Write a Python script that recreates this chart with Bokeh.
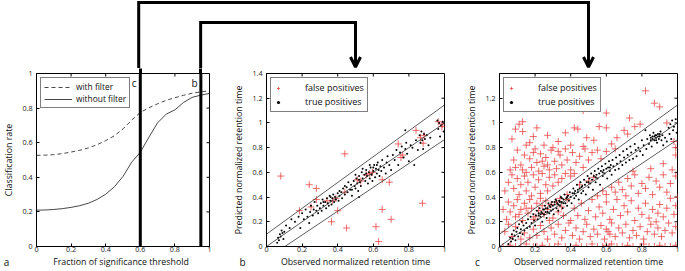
from bokeh.plotting import figure
from bokeh.layouts import column, row
from bokeh.models import (Range1d, FixedTicker, Span, Label, Legend, LegendItem, Arrow, OpenHead,
                          LinearAxis, CustomLabelingPolicy)
from bokeh.core.properties import value
from bokeh.embed import file_html
from bokeh.resources import INLINE

# ---------------- data ----------------
a_x = [0, 0.05, 0.1, 0.15, 0.2, 0.25, 0.3, 0.35, 0.4, 0.45, 0.5,
       0.55, 0.6, 0.65, 0.7, 0.75, 0.8, 0.85, 0.9, 0.95, 1.0]
a_with_filter = [0.527, 0.528, 0.531, 0.537, 0.546, 0.556, 0.570, 0.588, 0.612, 0.640, 0.680,
                 0.730, 0.775, 0.802, 0.825, 0.845, 0.860, 0.874, 0.886, 0.894, 0.900]
a_without_filter = [0.210, 0.211, 0.214, 0.219, 0.226, 0.236, 0.250, 0.272, 0.302, 0.345, 0.405,
                    0.487, 0.545, 0.632, 0.715, 0.765, 0.790, 0.833, 0.862, 0.875, 0.885]
a_thresholds = [0.6, 0.95]          # panel c, panel b
a_threshold_labels = ["c", "b"]

unit_ticks = [0, 0.2, 0.4, 0.6, 0.8, 1]
unit_tick_labels = ["0", "0.2", "0.4", "0.6", "0.8", "1"]
b_y_ticks = [0, 0.2, 0.4, 0.6, 0.8, 1, 1.2, 1.4]
b_y_tick_labels = ["0", "0.2", "0.4", "0.6", "0.8", "1", "1.2", "1.4"]
c_y_ticks = [0, 0.2, 0.4, 0.6, 0.8, 1, 1.2]
c_y_tick_labels = ["0", "0.2", "0.4", "0.6", "0.8", "1", "1.2"]

panel_letters = ["a", "b", "c"]
x_labels = ["Fraction of significance threshold",
            "Observed normalized retention time",
            "Observed normalized retention time"]

band_x = [0, 1]
band_mid = [0, 1]
band_upper = [0.1, 1.145]
band_lower = [-0.1, 0.865]

b_false_pos = [(0.08, 0.57), (0.185, 0.29), (0.24, 0.50), (0.25, 0.32), (0.28, 0.47), (0.28, 0.38),
               (0.34, 0.37), (0.365, 0.20), (0.37, 0.37), (0.39, 0.39), (0.40, 0.29), (0.44, 0.75),
               (0.44, 0.44), (0.45, 0.15), (0.51, 0.54), (0.53, 0.53), (0.56, 0.58), (0.58, 0.59),
               (0.595, 0.60), (0.615, 0.16), (0.63, 0.04), (0.65, 0.54), (0.65, 0.30), (0.69, 0.52),
               (0.70, 0.22), (0.74, 0.83), (0.755, 0.72), (0.765, 0.74), (0.84, 0.94), (0.865, 0.88),
               (0.885, 0.90), (0.88, 0.835), (0.876, 0.35), (0.965, 1.01), (0.985, 0.97), (0.99, 0.99)]

b_true_pos = [(0.06, 0.03), (0.065, 0.07), (0.07, 0.05), (0.075, 0.10), (0.08, 0.08), (0.085, 0.13),
              (0.09, 0.11), (0.095, 0.06), (0.10, 0.12), (0.11, 0.17), (0.13, 0.15), (0.14, 0.22),
              (0.16, 0.20), (0.18, 0.24), (0.19, 0.15), (0.20, 0.27), (0.21, 0.22), (0.22, 0.30),
              (0.23, 0.24), (0.24, 0.19), (0.245, 0.28), (0.25, 0.33), (0.26, 0.25), (0.265, 0.30),
              (0.27, 0.36), (0.28, 0.29), (0.285, 0.33), (0.29, 0.27), (0.30, 0.31), (0.305, 0.35),
              (0.31, 0.29), (0.315, 0.38), (0.32, 0.33), (0.33, 0.36), (0.335, 0.31), (0.34, 0.39),
              (0.345, 0.35), (0.35, 0.33), (0.355, 0.41), (0.36, 0.37), (0.365, 0.34), (0.37, 0.39),
              (0.375, 0.42), (0.38, 0.36), (0.385, 0.40), (0.39, 0.38), (0.40, 0.43), (0.405, 0.37),
              (0.41, 0.41), (0.42, 0.44), (0.425, 0.39), (0.43, 0.47), (0.44, 0.42), (0.45, 0.48),
              (0.455, 0.44), (0.46, 0.52), (0.47, 0.46), (0.475, 0.50), (0.48, 0.41), (0.49, 0.53),
              (0.495, 0.49), (0.50, 0.47), (0.505, 0.55), (0.51, 0.51), (0.515, 0.45), (0.52, 0.57),
              (0.525, 0.52), (0.53, 0.49), (0.535, 0.60), (0.54, 0.55), (0.52, 0.40), (0.55, 0.58),
              (0.555, 0.53), (0.56, 0.62), (0.565, 0.57), (0.57, 0.51), (0.575, 0.60), (0.58, 0.55),
              (0.585, 0.64), (0.59, 0.58), (0.595, 0.53), (0.60, 0.61), (0.605, 0.66), (0.61, 0.56),
              (0.615, 0.63), (0.62, 0.59), (0.625, 0.68), (0.63, 0.62), (0.635, 0.57), (0.64, 0.65),
              (0.645, 0.61), (0.65, 0.70), (0.66, 0.64), (0.67, 0.59), (0.675, 0.68), (0.68, 0.73),
              (0.69, 0.66), (0.70, 0.62), (0.71, 0.74), (0.72, 0.70), (0.73, 0.78), (0.74, 0.66),
              (0.75, 0.76), (0.76, 0.81), (0.77, 0.72), (0.78, 0.79), (0.785, 0.84), (0.79, 0.75),
              (0.80, 0.69), (0.81, 0.82), (0.78, 0.94), (0.82, 0.80), (0.83, 0.66), (0.84, 0.86),
              (0.85, 0.78), (0.86, 0.90), (0.865, 0.84), (0.87, 0.93), (0.875, 0.86), (0.88, 0.79),
              (0.885, 0.91), (0.89, 0.87), (0.90, 0.90), (0.91, 0.82), (0.92, 0.88), (0.96, 1.02),
              (0.965, 0.95), (0.97, 1.00), (0.975, 0.89), (0.98, 0.98), (0.99, 1.01), (0.995, 0.93),
              (0.41, 0.45), (0.44, 0.49), (0.48, 0.46), (0.52, 0.54), (0.56, 0.59), (0.60, 0.64),
              (0.36, 0.40), (0.32, 0.36), (0.58, 0.66), (0.54, 0.63), (0.62, 0.66), (0.50, 0.58)]

c_false_pos = [
    # upper region
    (0.07, 1.13), (0.10, 1.12), (0.16, 1.17), (0.30, 1.12), (0.47, 1.10), (0.60, 1.08), (0.82, 1.26),
    (0.87, 1.16), (0.90, 1.13), (0.42, 1.22), (0.73, 1.04), (0.13, 1.01),
    (0.07, 0.87), (0.09, 0.95), (0.11, 0.99), (0.13, 0.93), (0.15, 0.82), (0.19, 0.89), (0.21, 0.96),
    (0.25, 0.82), (0.27, 0.90), (0.33, 0.85), (0.37, 0.92), (0.42, 0.96), (0.44, 0.95), (0.40, 0.82),
    (0.49, 0.88), (0.53, 0.86), (0.60, 0.96), (0.63, 0.83), (0.70, 0.94), (0.72, 0.91), (0.66, 0.88),
    (0.56, 0.97), (0.30, 0.80), (0.17, 0.84), (0.47, 0.81), (0.76, 0.97), (0.79, 0.99), (0.94, 1.00),
    (0.98, 0.85), (0.99, 0.80),
    (0.06, 0.62), (0.08, 0.70), (0.10, 0.78), (0.12, 0.66), (0.14, 0.74), (0.15, 0.60), (0.17, 0.71),
    (0.18, 0.64), (0.20, 0.79), (0.21, 0.68), (0.22, 0.61), (0.23, 0.75), (0.25, 0.65), (0.26, 0.72),
    (0.28, 0.62), (0.29, 0.78), (0.31, 0.69), (0.32, 0.63), (0.34, 0.74), (0.35, 0.66), (0.37, 0.79),
    (0.38, 0.70), (0.40, 0.62), (0.41, 0.76), (0.43, 0.68), (0.45, 0.73), (0.47, 0.64), (0.48, 0.79),
    (0.50, 0.70), (0.52, 0.76), (0.55, 0.78), (0.57, 0.71), (0.60, 0.77), (0.65, 0.79), (0.13, 0.62),
    (0.19, 0.76), (0.24, 0.69), (0.33, 0.77), (0.27, 0.66), (0.09, 0.64), (0.92, 0.67), (0.97, 0.62),
    (0.99, 0.74), (0.85, 0.63), (0.75, 0.61),
    # middle region
    (0.03, 0.45), (0.05, 0.52), (0.07, 0.58), (0.08, 0.47), (0.10, 0.55), (0.11, 0.42), (0.12, 0.50),
    (0.14, 0.57), (0.15, 0.45), (0.16, 0.52), (0.18, 0.41), (0.19, 0.58), (0.20, 0.48), (0.22, 0.54),
    (0.23, 0.43), (0.24, 0.59), (0.26, 0.50), (0.27, 0.45), (0.28, 0.56), (0.30, 0.49), (0.31, 0.58),
    (0.33, 0.52), (0.35, 0.55), (0.37, 0.59), (0.40, 0.57), (0.42, 0.59),
    (0.55, 0.41), (0.58, 0.45), (0.60, 0.42), (0.63, 0.48), (0.65, 0.44), (0.67, 0.52), (0.69, 0.46),
    (0.71, 0.41), (0.72, 0.55), (0.74, 0.49), (0.76, 0.58), (0.78, 0.43), (0.80, 0.51), (0.82, 0.47),
    (0.84, 0.56), (0.86, 0.42), (0.88, 0.53), (0.90, 0.48), (0.92, 0.58), (0.94, 0.44), (0.96, 0.51),
    (0.99, 0.57), (1.00, 0.40), (0.45, 0.50), (0.50, 0.53), (0.38, 0.42), (0.53, 0.56),
    # lower region
    (0.02, 0.30), (0.04, 0.22), (0.05, 0.36), (0.06, 0.28), (0.08, 0.33), (0.09, 0.24), (0.10, 0.38),
    (0.12, 0.30), (0.13, 0.21), (0.14, 0.35), (0.16, 0.27), (0.17, 0.38), (0.18, 0.31), (0.20, 0.24),
    (0.21, 0.35), (0.22, 0.29), (0.24, 0.33), (0.25, 0.26), (0.26, 0.37), (0.27, 0.30), (0.29, 0.34),
    (0.30, 0.23), (0.32, 0.36), (0.33, 0.28), (0.35, 0.32), (0.36, 0.25), (0.38, 0.38), (0.40, 0.21),
    (0.42, 0.31), (0.44, 0.25), (0.46, 0.35), (0.48, 0.22), (0.50, 0.29), (0.52, 0.38), (0.54, 0.24),
    (0.56, 0.32), (0.58, 0.27), (0.60, 0.36), (0.62, 0.22), (0.64, 0.30), (0.66, 0.38), (0.68, 0.25),
    (0.70, 0.33), (0.72, 0.28), (0.74, 0.37), (0.76, 0.21), (0.78, 0.31), (0.80, 0.26), (0.82, 0.35),
    (0.84, 0.23), (0.86, 0.30), (0.88, 0.20), (0.89, 0.27), (0.90, 0.34), (0.92, 0.24), (0.94, 0.31),
    (0.96, 0.39), (0.98, 0.26), (0.99, 0.33), (0.11, 0.26), (0.19, 0.22), (0.23, 0.39), (0.28, 0.21),
    (0.34, 0.39), (0.15, 0.31),
    (0.03, 0.12), (0.05, 0.18), (0.07, 0.08), (0.09, 0.16), (0.12, 0.06), (0.14, 0.11), (0.17, 0.07),
    (0.19, 0.14), (0.21, 0.09), (0.23, 0.17), (0.25, 0.12), (0.27, 0.06), (0.29, 0.15), (0.31, 0.10),
    (0.33, 0.18), (0.35, 0.07), (0.37, 0.13), (0.39, 0.19), (0.41, 0.09), (0.43, 0.15), (0.45, 0.06),
    (0.47, 0.12), (0.49, 0.18), (0.51, 0.08), (0.53, 0.14), (0.55, 0.10), (0.57, 0.17), (0.59, 0.06),
    (0.61, 0.12), (0.63, 0.19), (0.65, 0.08), (0.67, 0.15), (0.69, 0.11), (0.71, 0.18), (0.73, 0.07),
    (0.75, 0.13), (0.77, 0.09), (0.79, 0.16), (0.81, 0.06), (0.83, 0.12), (0.85, 0.18), (0.87, 0.10),
    (0.89, 0.15), (0.91, 0.08), (0.93, 0.13), (0.95, 0.19), (0.97, 0.11), (0.99, 0.16), (0.62, 0.10),
    (0.60, 0.14),
    # bottom row
    (0.02, 0.0), (0.06, 0.01), (0.09, 0.0), (0.12, 0.0), (0.15, 0.02), (0.19, 0.0), (0.21, 0.0),
    (0.24, 0.01), (0.28, 0.0), (0.31, 0.0), (0.33, 0.02), (0.37, 0.0), (0.40, 0.0), (0.43, 0.01),
    (0.46, 0.0), (0.49, 0.0), (0.52, 0.02), (0.55, 0.0), (0.58, 0.0), (0.60, 0.01), (0.62, 0.0),
    (0.63, 0.02), (0.66, 0.0), (0.69, 0.0), (0.72, 0.01), (0.75, 0.0), (0.79, 0.0), (0.81, 0.02),
    (0.84, 0.0), (0.87, 0.0), (0.90, 0.01), (0.93, 0.0), (0.96, 0.0), (0.99, 0.01)]

c_true_pos = [
    (0.05, 0.02), (0.06, 0.07), (0.065, 0.04), (0.07, 0.10), (0.075, 0.06), (0.08, 0.13), (0.085, 0.09),
    (0.09, 0.05), (0.095, 0.12), (0.10, 0.15), (0.105, 0.08), (0.11, 0.18), (0.115, 0.11), (0.12, 0.14),
    (0.125, 0.20), (0.13, 0.10), (0.135, 0.17), (0.14, 0.13), (0.15, 0.19), (0.155, 0.15), (0.16, 0.22),
    (0.17, 0.16), (0.175, 0.24), (0.18, 0.19), (0.19, 0.26), (0.195, 0.21), (0.20, 0.17), (0.205, 0.25),
    (0.21, 0.29), (0.215, 0.22), (0.22, 0.27), (0.225, 0.31), (0.23, 0.24), (0.235, 0.28), (0.24, 0.20),
    (0.245, 0.30), (0.25, 0.26), (0.255, 0.33), (0.26, 0.28), (0.265, 0.23), (0.27, 0.31), (0.275, 0.35),
    (0.28, 0.27), (0.285, 0.32), (0.29, 0.29), (0.295, 0.36), (0.30, 0.33), (0.305, 0.26), (0.31, 0.34),
    (0.315, 0.38), (0.32, 0.31), (0.325, 0.35), (0.33, 0.29), (0.335, 0.37), (0.34, 0.33), (0.345, 0.40),
    (0.35, 0.36), (0.355, 0.31), (0.36, 0.38), (0.365, 0.42), (0.37, 0.35), (0.375, 0.39), (0.38, 0.33),
    (0.385, 0.41), (0.39, 0.37), (0.395, 0.44), (0.40, 0.40), (0.405, 0.35), (0.41, 0.43), (0.415, 0.47),
    (0.42, 0.39), (0.425, 0.45), (0.43, 0.41), (0.435, 0.50), (0.44, 0.44), (0.445, 0.38), (0.45, 0.47),
    (0.455, 0.52), (0.46, 0.43), (0.465, 0.49), (0.47, 0.45), (0.475, 0.54), (0.48, 0.50), (0.485, 0.42),
    (0.49, 0.52), (0.495, 0.57), (0.50, 0.48), (0.505, 0.55), (0.51, 0.51), (0.515, 0.59), (0.52, 0.54),
    (0.525, 0.46), (0.53, 0.57), (0.535, 0.61), (0.54, 0.52), (0.545, 0.58), (0.55, 0.55), (0.555, 0.63),
    (0.56, 0.59), (0.565, 0.50), (0.57, 0.61), (0.575, 0.65), (0.58, 0.57), (0.585, 0.62), (0.59, 0.59),
    (0.595, 0.67), (0.60, 0.63), (0.605, 0.55), (0.61, 0.64), (0.615, 0.69), (0.62, 0.61), (0.625, 0.66),
    (0.63, 0.58), (0.635, 0.70), (0.64, 0.65), (0.65, 0.62), (0.655, 0.72), (0.66, 0.67), (0.67, 0.63),
    (0.675, 0.74), (0.68, 0.69), (0.69, 0.66), (0.695, 0.77), (0.70, 0.72), (0.71, 0.68), (0.715, 0.79),
    (0.72, 0.74), (0.73, 0.70), (0.735, 0.81), (0.74, 0.76), (0.75, 0.71), (0.76, 0.83), (0.765, 0.78),
    (0.77, 0.73), (0.78, 0.80), (0.79, 0.77), (0.80, 0.86), (0.805, 0.74), (0.81, 0.82), (0.82, 0.94),
    (0.825, 0.79), (0.83, 0.87), (0.84, 0.83), (0.845, 0.90), (0.85, 0.86), (0.855, 0.81), (0.86, 0.89),
    (0.865, 0.92), (0.87, 0.86), (0.875, 0.90), (0.88, 0.88), (0.885, 0.84), (0.89, 0.91), (0.895, 0.87),
    (0.90, 0.89), (0.905, 0.93), (0.91, 0.86), (0.915, 0.90), (0.92, 0.82), (0.93, 0.88), (0.94, 0.85),
    (0.95, 0.96), (0.955, 0.91), (0.96, 0.99), (0.965, 0.87), (0.97, 1.02), (0.975, 0.94), (0.98, 0.97),
    (0.99, 1.03), (0.995, 0.92), (0.28, 0.33), (0.30, 0.30), (0.32, 0.37), (0.34, 0.36), (0.36, 0.35),
    (0.38, 0.40), (0.26, 0.31), (0.24, 0.27), (0.22, 0.25), (0.42, 0.43), (0.31, 0.36), (0.29, 0.34),
    (0.33, 0.34), (0.35, 0.39), (0.27, 0.28), (0.25, 0.30), (0.23, 0.26), (0.44, 0.46), (0.46, 0.48),
    (0.86, 0.87), (0.87, 0.89), (0.88, 0.86), (0.89, 0.89), (0.85, 0.88), (0.90, 0.91), (0.88, 0.90),
    (0.62, 0.64), (0.58, 0.60), (0.54, 0.56), (0.50, 0.52)]

# ---------------- layout ----------------
FONT = "Open Sans"
W_TOT = 685
S_H = 68                      # connector strip height
T_P = 5                       # panel top border (room for the top tick label)
B_P = 10                      # panel bottom border (tick labels)
FH = 173                      # frame height
H_P = T_P + FH + B_P          # panel height
X_H = 271 - S_H - H_P         # bottom strip with x labels and panel letters
W_A, W_B, W_C = 222, 233, 230
L_A, L_B, L_C = 32, 44, 44
R_A, R_B, R_C = 13, 11, 8
FA, FB, FC = W_A - L_A - R_A, W_B - L_B - R_B, W_C - L_C - R_C
TICK = 3                      # inward tick length, px

RED = "#ec4646"
TXT = "#111111"


def style(p, xt, xtl, yt, ytl, ylabel, fw, y_end):
    p.xaxis.ticker = FixedTicker(ticks=xt, minor_ticks=[])
    p.yaxis.ticker = FixedTicker(ticks=yt, minor_ticks=[])
    p.xaxis.major_label_overrides = dict(zip(xt, xtl))
    p.yaxis.major_label_overrides = dict(zip(yt, ytl))
    p.yaxis.axis_label = ylabel
    for ax in p.xaxis + p.yaxis:
        ax.major_tick_in = TICK
        ax.major_tick_out = 0
        ax.minor_tick_line_color = None
        ax.axis_line_color = "black"
        ax.major_tick_line_color = "black"
        ax.major_label_text_font = FONT
        ax.major_label_text_font_size = "7.2px"
        ax.major_label_text_color = "#222222"
        ax.axis_label_text_font = FONT
        ax.axis_label_text_font_size = "8.8px"
        ax.axis_label_text_font_style = "normal"
        ax.axis_label_text_color = TXT
    p.xaxis.major_label_standoff = 0
    p.yaxis.major_label_standoff = 4
    p.yaxis.axis_label_standoff = 4
    p.grid.visible = False
    p.outline_line_color = "black"
    p.outline_line_width = 1
    # mirrored (box) ticks on the top and right edges
    dy = TICK / FH * y_end
    dx = TICK / fw
    p.segment(x0=xt, y0=[y_end] * len(xt), x1=xt, y1=[y_end - dy] * len(xt),
              line_color="black", line_width=1)
    p.segment(x0=[1] * len(yt), y0=yt, x1=[1 - dx] * len(yt), y1=yt,
              line_color="black", line_width=1)


def panel(w, l, r, y_end):
    return figure(width=w, height=H_P, x_range=Range1d(0, 1), y_range=Range1d(0, y_end),
                  min_border_left=l, min_border_right=r, min_border_top=T_P, min_border_bottom=B_P,
                  toolbar_location=None, output_backend="svg")


def make_legend(items, gw, standoff, fs):
    return Legend(items=items, location="top_left", margin=4, padding=3, spacing=1,
                  glyph_width=gw, glyph_height=10, label_height=10, label_standoff=standoff,
                  label_text_font=FONT, label_text_font_size=fs, label_text_color=TXT,
                  border_line_color="black", border_line_width=1, background_fill_color="white",
                  background_fill_alpha=1)


# ---- panel a ----
pa = panel(W_A, L_A, R_A, 1)
style(pa, unit_ticks, unit_tick_labels, unit_ticks, unit_tick_labels, "Classification rate", FA, 1)
r_with = pa.line(a_x, a_with_filter, line_color="#333333", line_width=0.9, line_dash="4 3")
r_without = pa.line(a_x, a_without_filter, line_color="#333333", line_width=0.9)
legend_a = make_legend([LegendItem(label="with filter", renderers=[r_with]),
                        LegendItem(label="without filter", renderers=[r_without])], 28, 4, "8.4px")
pa.add_layout(legend_a)
for t, lab in zip(a_thresholds, a_threshold_labels):
    pa.add_layout(Span(location=t, dimension="height", line_color="black", line_width=3))
    pa.add_layout(Label(x=t - 0.036, y=0.945, text=lab, text_font=FONT, text_font_size="10px",
                        text_align="center", text_baseline="middle", text_color=TXT))
# the thick threshold lines continue through the top border up to the connector strip
thr_axis = LinearAxis(ticker=FixedTicker(ticks=a_thresholds, minor_ticks=[]),
                      major_tick_in=0, major_tick_out=T_P, major_tick_line_width=3,
                      major_tick_line_color="black", axis_line_color=None,
                      minor_tick_line_color=None, major_label_text_font_size="0px",
                      major_label_standoff=0,
                      major_label_policy=CustomLabelingPolicy(
                          code="for (const i of indices) { if (i < 0) yield i }"))
pa.add_layout(thr_axis, "above")


# ---- panels b and c ----
def scatter_panel(w, l, r, fw, y_ticks, y_tick_labels, fp, tp):
    p = panel(w, l, r, 1.4)
    style(p, unit_ticks, unit_tick_labels, y_ticks, y_tick_labels,
          "Predicted normalized retention time", fw, 1.4)
    r_fp = p.scatter([q[0] for q in fp], [q[1] for q in fp], marker="cross", size=7,
                     line_color=RED, line_width=1, line_alpha=0.8)
    r_tp = p.scatter([q[0] for q in tp], [q[1] for q in tp], marker="circle", size=2.0,
                     fill_color="black", line_color=None)
    for yy in (band_upper, band_mid, band_lower):
        p.line(band_x, yy, line_color="#333333", line_width=0.8)
    p.add_layout(make_legend([LegendItem(label="false positives", renderers=[r_fp]),
                              LegendItem(label="true positives", renderers=[r_tp])],
                             8, 23, "9px"))
    return p


pb = scatter_panel(W_B, L_B, R_B, FB, b_y_ticks, b_y_tick_labels, b_false_pos, b_true_pos)
pc = scatter_panel(W_C, L_C, R_C, FC, c_y_ticks, c_y_tick_labels, c_false_pos, c_true_pos)

# ---- connector strip (pixel coordinates derived from the panel scales) ----
top = figure(width=W_TOT, height=S_H, x_range=Range1d(0, W_TOT), y_range=Range1d(S_H, 0),
             x_axis_type=None, y_axis_type=None, min_border=0, toolbar_location=None,
             output_backend="svg", outline_line_color=None)
x_a_c = L_A + a_thresholds[0] * FA
x_a_b = L_A + a_thresholds[1] * FA
x_b = W_A + L_B + 0.5 * FB
x_c = W_A + W_B + L_C + 0.5 * FC
y_outer, y_inner, y_tip = 2, 22, 66.5
top.line([x_a_c, x_a_c, x_c, x_c], [S_H, y_outer, y_outer, y_tip], line_color="black",
         line_width=3, line_join="miter")
top.line([x_a_b, x_a_b, x_b, x_b], [S_H, y_inner, y_inner, y_tip], line_color="black",
         line_width=3, line_join="miter")
for xx in (x_b, x_c):
    top.add_layout(Arrow(end=OpenHead(size=10, line_width=3, line_color="black"),
                         x_start=xx, y_start=y_tip - 6, x_end=xx, y_end=y_tip,
                         line_width=3, line_color="black"))

# ---- bottom strip: x-axis titles and panel letters ----
bot = figure(width=W_TOT, height=X_H, x_range=Range1d(0, W_TOT), y_range=Range1d(X_H, 0),
             x_axis_type=None, y_axis_type=None, min_border=0, toolbar_location=None,
             output_backend="svg", outline_line_color=None)
centers = [L_A + 0.5 * FA, W_A + L_B + 0.5 * FB, W_A + W_B + L_C + 0.5 * FC]
letter_x = [6, W_A + 20, W_A + W_B + 22]
bot.text(x=centers, y=[5] * 3, text=x_labels, text_font=value(FONT),
         text_font_size=value("8.8px"), text_align="center", text_baseline="middle",
         text_color=TXT)
bot.text(x=letter_x, y=[5] * 3, text=panel_letters, text_font=value(FONT),
         text_font_size=value("10px"), text_align="center", text_baseline="middle",
         text_color=TXT)

layout = column(top, row(pa, pb, pc), bot)
open("out.html", "w").write(file_html(layout, INLINE, title="retention time figure"))
